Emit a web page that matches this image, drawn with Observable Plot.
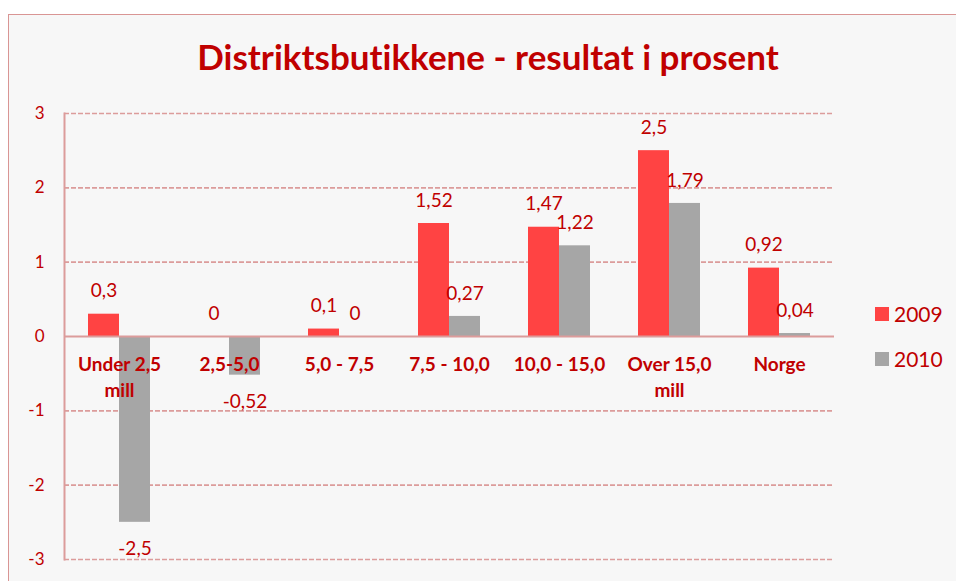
<!DOCTYPE html>
<html>
<head>
<meta charset="utf-8">
<script src="https://cdn.jsdelivr.net/npm/d3@7"></script>
<script src="https://cdn.jsdelivr.net/npm/@observablehq/plot@0.6"></script>
<style>
  html, body { margin: 0; padding: 0; background: #ffffff; overflow: hidden; }
  body { width: 956px; height: 581px; position: relative; font-family: Lato, "Open Sans", sans-serif; font-variant-ligatures: none; }
  #frame { position: absolute; left: 8px; top: 14px; width: 1000px; height: 700px; background: #f7f7f7; border: 1.5px solid #d99594; box-sizing: border-box; }
  #title { position: absolute; left: 0; top: 39px; width: 976px; text-align: center; font-size: 35px; line-height: 35px; font-weight: bold; color: #c00000; font-variant-ligatures: none; }
  #chart { position: absolute; left: 0; top: 0; }
  #chart svg { font-variant-ligatures: none; }
  .leg { position: absolute; font-size: 21px; line-height: 21px; color: #c00000; }
  .sw { position: absolute; width: 14px; height: 14px; }
</style>
</head>
<body>
<div id="frame"></div>
<div id="title">Distriktsbutikkene - resultat i prosent</div>
<div id="chart"></div>
<div class="sw" style="left:875px; top:307px; background:#ff4343;"></div>
<div class="leg" style="left:894px; top:303px;">2009</div>
<div class="sw" style="left:875px; top:352px; background:#a6a6a6;"></div>
<div class="leg" style="left:894px; top:348px;">2010</div>
<script>
const categories = ["Under 2,5\nmill", "2,5-5,0", "5,0 - 7,5", "7,5 - 10,0", "10,0 - 15,0", "Over 15,0\nmill", "Norge"];
const values2009 = [0.3, 0, 0.1, 1.52, 1.47, 2.5, 0.92];
const values2010 = [-2.5, -0.52, 0, 0.27, 1.22, 1.79, 0.04];
const yTicks = [-3, -2, -1, 0, 1, 2, 3];

const d2009 = categories.map((c, i) => ({cat: c, v: values2009[i]}));
const d2010 = categories.map((c, i) => ({cat: c, v: values2010[i]}));
const fmt = v => String(v).replace(".", ",");

const RED = "#ff4343", GRAY = "#a6a6a6", TXT = "#c00000", GRID = "#dc9c9b";

const chart = Plot.plot({
  width: 956,
  height: 581,
  marginLeft: 64,
  marginRight: 122,
  marginTop: 113,
  marginBottom: 22,
  style: {background: "transparent", fontFamily: "Lato, 'Open Sans', sans-serif"},
  x: {type: "band", domain: categories, paddingInner: 0.436, paddingOuter: 0.218, axis: null},
  y: {domain: [-3, 3], axis: null},
  marks: [
    Plot.ruleY(yTicks.filter(t => t !== 0), {stroke: GRID, strokeWidth: 1.6, strokeDasharray: "5,2"}),
    Plot.frame({anchor: "left", stroke: GRID, strokeWidth: 2}),
    Plot.axisY({ticks: yTicks, tickSize: 0, tickPadding: 20, fontSize: 17, fill: TXT, tickFormat: d => String(d), label: null}),
    Plot.barY(d2009, {x: "cat", y: "v", fill: RED, insetRight: 31}),
    Plot.barY(d2010, {x: "cat", y: "v", fill: GRAY, insetLeft: 31}),
    Plot.ruleY([0], {stroke: GRID, strokeWidth: 2}),
    Plot.text(d2009, {filter: d => d.v >= 0, x: "cat", y: "v", text: d => fmt(d.v), dx: -15.5, dy: -23, fontSize: 19, fill: TXT}),
    Plot.text(d2010, {filter: d => d.v >= 0, x: "cat", y: "v", text: d => fmt(d.v), dx: 15.5, dy: -23, fontSize: 19, fill: TXT}),
    Plot.text(d2010, {filter: d => d.v < 0, x: "cat", y: "v", text: d => fmt(d.v), dx: 15.5, dy: 27, fontSize: 19, fill: TXT}),
    Plot.text(categories, {x: d => d, y: d => 0, text: d => d, lineAnchor: "top", dy: 16, lineHeight: 1.37, fontSize: 19, fontWeight: "bold", fill: TXT})
  ]
});
document.getElementById("chart").appendChild(chart);
</script>
</body>
</html>
